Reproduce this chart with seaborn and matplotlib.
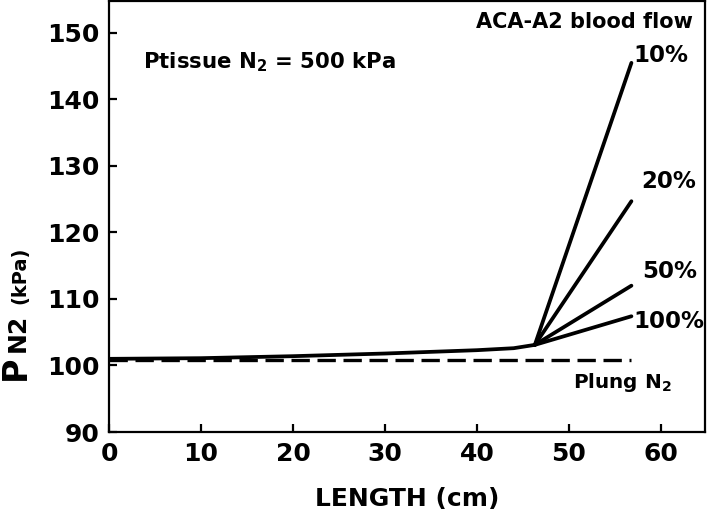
import matplotlib
matplotlib.use("Agg")
import matplotlib.pyplot as plt
import seaborn as sns
import pandas as pd

# ---- data ----
base_x = [0, 10, 20, 30, 40, 44, 46.3]
base_y = [101.0, 101.1, 101.4, 101.8, 102.3, 102.6, 103.1]
branch_x = [46.3, 56.8]
branch_start = 103.1
flow_labels = ["10%", "20%", "50%", "100%"]
flow_end = [145.5, 124.7, 112.0, 107.4]
lung_x = [0, 56.8]
lung_y = [100.8, 100.8]
x_ticks = [0, 10, 20, 30, 40, 50, 60]
y_ticks = [90, 100, 110, 120, 130, 140, 150]

sns.set_theme(style="ticks")
plt.rcParams["font.family"] = ["DejaVu Sans"]
plt.rcParams["font.weight"] = "bold"
plt.rcParams["mathtext.fontset"] = "dejavusans"
plt.rcParams["mathtext.default"] = "bf"
plt.rcParams["text.color"] = "black"
plt.rcParams["axes.labelcolor"] = "black"
plt.rcParams["xtick.color"] = "black"
plt.rcParams["ytick.color"] = "black"

fig = plt.figure(figsize=(7.09, 5.14), dpi=100)
ax = fig.add_axes([109/709, (514-432)/514, (705-109)/709, (432-1)/514])

lw = 2.7
sns.lineplot(x=base_x, y=base_y, color="black", linewidth=lw, ax=ax, sort=False)
for lab, end in zip(flow_labels, flow_end):
    df = pd.DataFrame({"x": branch_x, "y": [branch_start, end]})
    sns.lineplot(data=df, x="x", y="y", color="black", linewidth=lw, ax=ax, sort=False)
sns.lineplot(x=lung_x, y=lung_y, color="black", linewidth=2.4, ax=ax,
             dashes=False).lines[-1].set_dashes((5.5, 2.3))

ax.set_xlim(0, 64.8)
ax.set_ylim(90, 154.8)
ax.set_xticks(x_ticks)
ax.set_yticks(y_ticks)
ax.tick_params(direction="in", length=6, width=1.6, labelsize=18, pad=7,
               color="black", labelcolor="black")
for lbl in ax.get_xticklabels() + ax.get_yticklabels():
    lbl.set_fontweight("bold")
for s in ax.spines.values():
    s.set_linewidth(1.6)
    s.set_color("black")
    s.set_visible(True)

ax.set_xlabel("LENGTH (cm)", fontsize=18, fontweight="bold", labelpad=15, color="black")
ax.set_ylabel("")

# y-label pieces, chained upward
fig.canvas.draw()
renderer = fig.canvas.get_renderer()
y_px = 380.0
pieces = [("P", 24, 0), ("N2", 18, 3), ("(kPa)", 14, 10)]
for txt, fs, gap in pieces:
    y_px -= gap
    t = fig.text(25/709, (514 - y_px)/514, txt, fontsize=fs, fontweight="bold",
                 rotation=90, rotation_mode="anchor", ha="left", va="baseline",
                 color="black")
    bb = t.get_window_extent(renderer)
    y_px = 514 - bb.y1

# annotations
ax.text(3.7, 144.6, r"Ptissue N$_2$ = 500 kPa", fontsize=15.3, fontweight="bold",
        ha="left", va="baseline")
ax.text(63.5, 150.7, "ACA-A2 blood flow", fontsize=15.0, fontweight="bold",
        ha="right", va="baseline")
lab_pos = [(57.0, 145.6), (57.9, 126.7), (58.0, 113.2), (57.0, 105.6)]
for lab, (lx, ly) in zip(flow_labels, lab_pos):
    ax.text(lx, ly, lab, fontsize=16.5, fontweight="bold", ha="left", va="baseline")
ax.text(50.4, 96.6, r"Plung N$_2$", fontsize=14.4, fontweight="bold", ha="left", va="baseline")

fig.savefig("out.png", dpi=100, facecolor="white")
